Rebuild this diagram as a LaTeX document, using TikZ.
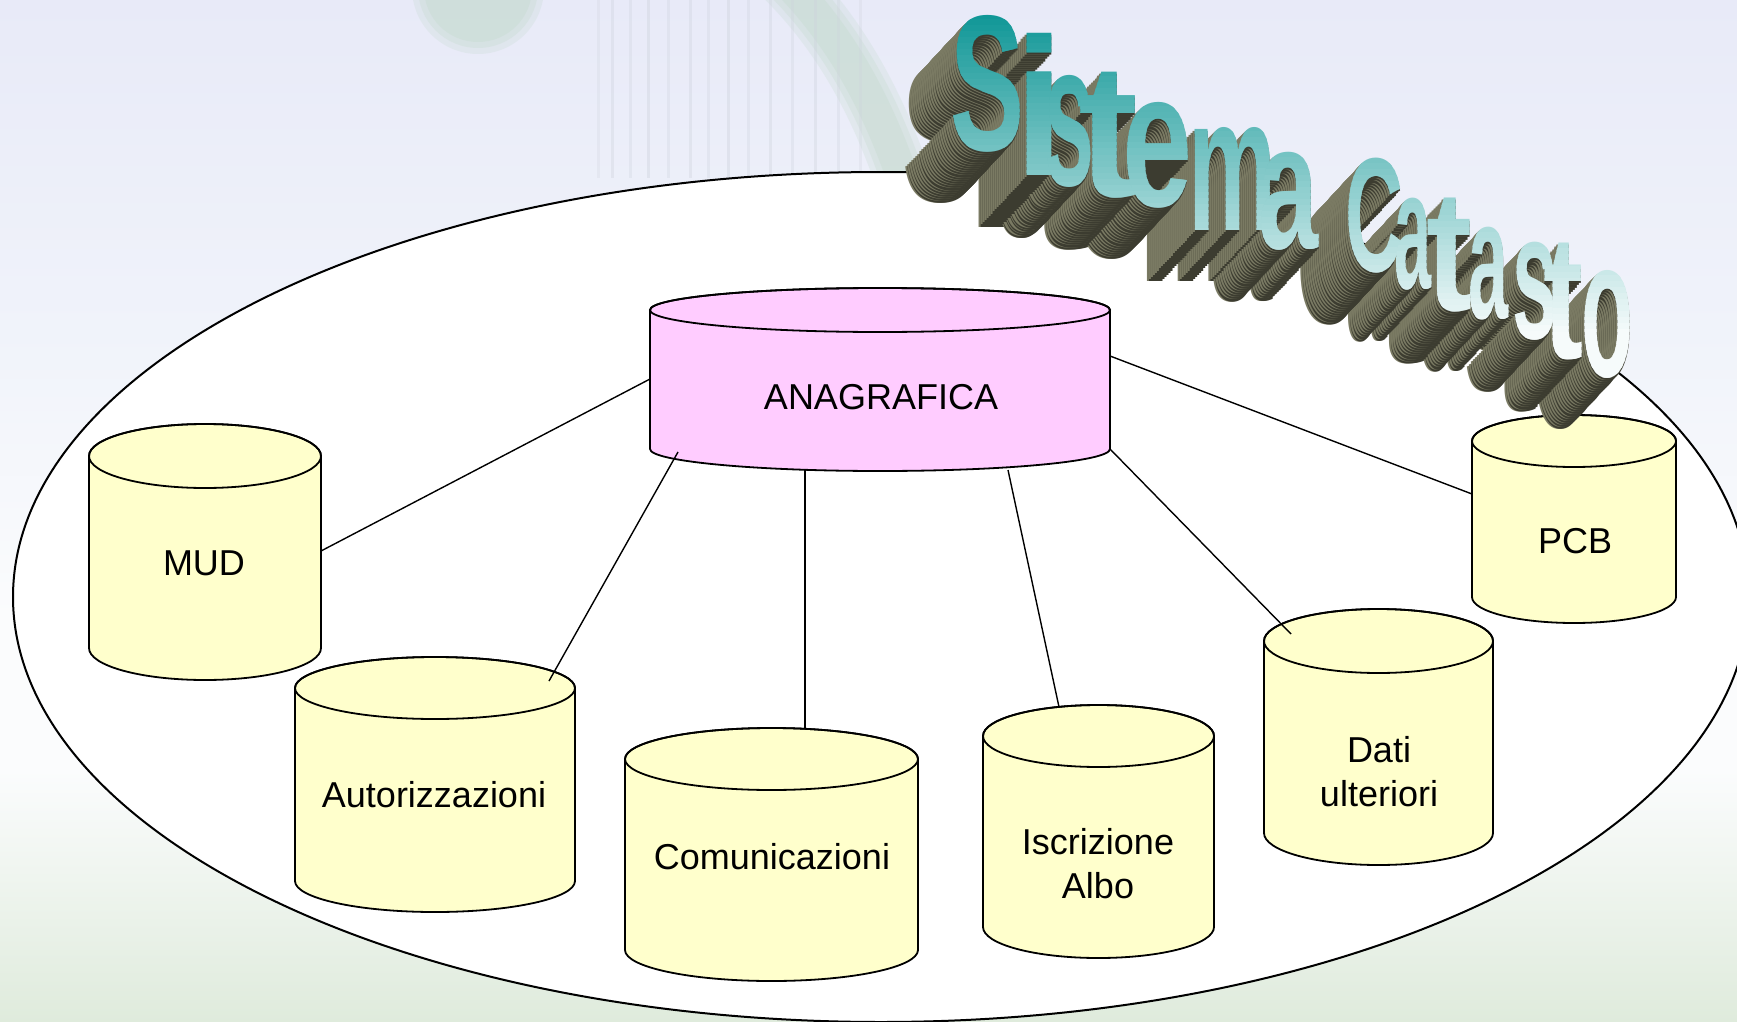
\documentclass[tikz,border=0pt]{standalone}
\usepackage{graphicx}
\usepackage{fontspec}
\setmainfont{Liberation Sans}
\newfontfamily\titlefont{Liberation Sans}
\usetikzlibrary{calc}
\definecolor{bgtop}{HTML}{E8EAF8}
\definecolor{bgmid}{HTML}{F0F3FA}
\definecolor{bgwhite}{HTML}{FBFCFD}
\definecolor{bgbot}{HTML}{DFEBDC}
\definecolor{cylyellow}{HTML}{FFFFCC}
\definecolor{cylpink}{HTML}{FFCCFF}
\definecolor{extlit}{HTML}{7A7A63}
\definecolor{extdark}{HTML}{3C3C30}
\definecolor{wateal}{HTML}{0E9696}
\definecolor{wapale}{HTML}{F6FBFB}
\definecolor{wmgreen}{HTML}{C4DACD}
\definecolor{wmgrey}{HTML}{CDD2DC}

\tikzset{
  cylline/.style={draw=black, line width=1.8pt},
  link/.style={draw=black, line width=1.4pt},
  txt/.style={font=\fontsize{36}{44}\selectfont, align=center, inner sep=0pt, text=black},
  glyph/.style={inner sep=0pt, anchor=north},
}
% cylinder: #1 fill, #2 left x, #3 right x, #4 top y, #5 bottom y, #6 y radius
\newcommand{\drawcyl}[6]{%
  \pgfmathsetmacro\cylcx{(#2+#3)/2}%
  \pgfmathsetmacro\cylrx{(#3-#2)/2}%
  \filldraw[cylline, fill=#1] (#2,#4+#6) -- (#2,#5-#6)
     arc[start angle=180, end angle=0, x radius=\cylrx, y radius=#6]
     -- (#3,#4+#6)
     arc[start angle=0, end angle=-180, x radius=\cylrx, y radius=#6] -- cycle;
  \draw[cylline] (\cylcx,#4+#6) ellipse[x radius=\cylrx, y radius=#6];
}
\newcommand{\wglyph}[3]{\resizebox*{#1pt}{#2pt}{\titlefont\bfseries #3}}
\def\titlelist{S/988/15/152/74, i/1039/33/175/50, s/1069/75/187/50, t/1109/72/198/60, e/1158/102/208/70, m/1232/127/230/88, a/1288/152/250/60, C/1374/158/273/58, a/1413/198/290/37, t/1449/198/312/46, a/1488/227/320/40, s/1535/242/340/45, t/1563/243/360/40, o/1607/270/378/52}

\begin{document}
\begin{tikzpicture}[x=1pt, y=-1pt]
\useasboundingbox (0,0) rectangle (1737,1022);
\clip (0,0) rectangle (1737,1022);

% background
\fill[top color=bgtop, bottom color=bgmid] (0,0) rectangle (1737,331);
\fill[top color=bgmid, bottom color=bgwhite] (0,330) rectangle (1737,621);
\fill[bgwhite] (0,620) rectangle (1737,771);
\fill[top color=bgwhite, bottom color=bgbot] (0,770) rectangle (1737,1022);

% faint watermark
\foreach \rr/\op in {66/.25, 60/.3, 54/.35}
  \fill[wmgreen, opacity=\op] (478,-12) ellipse[x radius=\rr, y radius=\rr];
\foreach \lw/\op in {56/.25, 44/.3, 32/.35}
  \draw[wmgreen, line width=\lw pt, opacity=\op] (785,-20) .. controls (835,30) and (875,95) .. (905,185);
\foreach \sx/\op in {598/.25,612/.35,630/.3,648/.4,668/.3,690/.35,708/.3,728/.4,748/.3,770/.35,792/.3,815/.35,838/.3,860/.25}
  \draw[wmgrey, line width=3pt, opacity=\op] (\sx,0) -- (\sx,178);

% big ellipse
\filldraw[fill=white, draw=black, line width=2pt] (881,597) ellipse[x radius=868, y radius=425];

% cylinders
\drawcyl{cylyellow}{89}{321}{424}{680}{32}
\drawcyl{cylyellow}{295}{575}{657}{912}{31}
\drawcyl{cylyellow}{625}{918}{728}{981}{31}
\drawcyl{cylyellow}{983}{1214}{705}{958}{31}
\drawcyl{cylyellow}{1264}{1493}{609}{865}{32}
\drawcyl{cylyellow}{1472}{1676}{415}{623}{26}
\drawcyl{cylpink}{650}{1110}{288}{471}{22}

% labels
\node[txt] (ana) at (881,397) {ANAGRAFICA};
\node[txt] (mud) at (204,563) {MUD};
\node[txt] (aut) at (434,795) {Autorizzazioni};
\node[txt] (com) at (772,857) {Comunicazioni};
\node[txt] (isc) at (1098,864) {Iscrizione\\Albo};
\node[txt] (dat) at (1379,772) {Dati\\ulteriori};
\node[txt] (pcb) at (1575,541) {PCB};

% connector end points
\coordinate (anaW) at (650,379);   \coordinate (mudE) at (321,551);
\coordinate (anaSW) at (678,452);  \coordinate (autN) at (549,681);
\coordinate (anaS1) at (805,470);  \coordinate (comN) at (805,729);
\coordinate (anaS2) at (1008,470); \coordinate (iscN) at (1059,707);
\coordinate (anaSE) at (1110,449); \coordinate (datN) at (1291,634);
\coordinate (anaE) at (1110,356);  \coordinate (pcbW) at (1472,494);

\draw[link] (anaW) -- (mudE);
\draw[link] (anaSW) -- (autN);
\draw[link] (anaS1) -- (comN);
\draw[link] (anaS2) -- (iscN);
\draw[link] (anaSE) -- (datN);
\draw[link] (anaE) -- (pcbW);

% WordArt title: extrusion
\foreach \k in {24,23,...,1}{
  \foreach \lch/\lcx/\ltp/\lbt/\lwd in \titlelist {
    \pgfmathsetmacro\lhh{\lbt-\ltp}
    \node[glyph, text=extlit] (xl\k-\lcx) at (\lcx-2*\k, \ltp+2.15*\k) {\wglyph{\lwd}{\lhh}{\lch}};
    \node[glyph, text=extdark] (xd\k-\lcx) at (\lcx-2*\k+2, \ltp+2.15*\k) {\wglyph{\lwd}{\lhh}{\lch}};
  }
}
% WordArt title: gradient faces
\foreach \lch/\lcx/\ltp/\lbt/\lwd in \titlelist {
  \pgfmathsetmacro\lhh{\lbt-\ltp}
  \pgfmathtruncatemacro\nb{ceil((\lbt-\ltp)/6)}
  \foreach \j in {0,...,\nb}{
    \pgfmathsetmacro\ya{\ltp+6*\j}
    \pgfmathtruncatemacro\mx{max(0,min(100,100-(\ya-12)/3.2))}
    \begin{scope}
      \clip (\lcx-\lwd,\ya-1) rectangle (\lcx+\lwd,\ya+7);
      \node[glyph, text=wateal!\mx!wapale] (f\lcx-\j) at (\lcx,\ltp) {\wglyph{\lwd}{\lhh}{\lch}};
    \end{scope}
  }
}
\end{tikzpicture}
\end{document}
